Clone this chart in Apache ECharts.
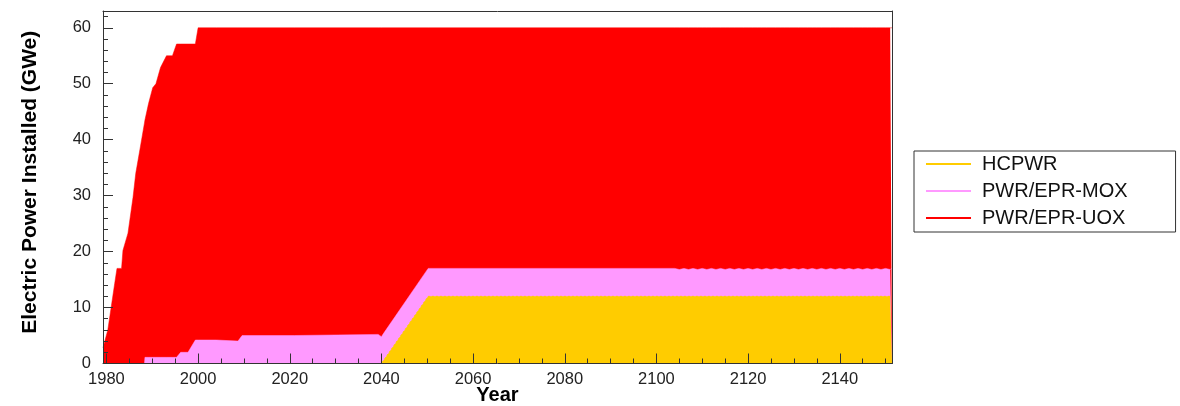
<!DOCTYPE html>
<html>
<head>
<meta charset="utf-8">
<script src="https://cdn.jsdelivr.net/npm/echarts@6/dist/echarts.min.js"></script>
<style>
  html, body { margin: 0; padding: 0; background: #fff; }
  #chart { width: 1180px; height: 406px; }
</style>
</head>
<body>
<div id="chart"></div>
<script>
// Installed electric power by reactor type (GWe), stacked.
const years = [
  1979.25, 1980.3, 1981.8, 1982.3, 1983.3, 1983.6, 1984.7, 1985.8, 1986.4, 1987.4,
  1988.3, 1988.4, 1989.2, 1990.1, 1990.8, 1991.8, 1993.1, 1994.4, 1995.3, 1995.6,
  1996.2, 1997.8, 1999.4, 1999.5, 2000.0, 2004.0, 2004.3, 2008.7, 2009.6, 2021.0,
  2021.3, 2039.3, 2040.0, 2040.4, 2050.2,
  2104, 2105, 2106, 2107, 2108, 2109, 2110, 2111, 2112, 2113, 2114, 2115,
  2116, 2117, 2118, 2119, 2120, 2121, 2122, 2123, 2124, 2125, 2126, 2127,
  2128, 2129, 2130, 2131, 2132, 2133, 2134, 2135, 2136, 2137, 2138, 2139,
  2140, 2141, 2142, 2143, 2144, 2145, 2146, 2147, 2148, 2149, 2150, 2151,
  2151.4
];

const hcpwr = [
  0, 0, 0, 0, 0, 0, 0, 0, 0, 0,
  0, 0, 0, 0, 0, 0, 0, 0, 0, 0,
  0, 0, 0, 0, 0, 0, 0, 0, 0, 0,
  0, 0, 0, 0, 12.0,
  12, 12, 12, 12, 12, 12, 12, 12, 12, 12, 12, 12,
  12, 12, 12, 12, 12, 12, 12, 12, 12, 12, 12, 12,
  12, 12, 12, 12, 12, 12, 12, 12, 12, 12, 12, 12,
  12, 12, 12, 12, 12, 12, 12, 12, 12, 12, 12, 12,
  12
];

const pwrMox = [
  0, 0, 0, 0, 0, 0, 0, 0, 0, 0,
  0, 1.1, 1.1, 1.1, 1.1, 1.1, 1.1, 1.1, 1.1, 1.1,
  2.0, 2.0, 4.2, 4.2, 4.2, 4.2, 4.0, 4.0, 5.0, 5.0,
  5.2, 5.2, 4.8, 5.3, 5.0,
  5.0, 4.8, 5.0, 4.8, 5.0, 4.8, 5.0, 4.8, 5.0, 4.8, 5.0, 4.8,
  5.0, 4.8, 5.0, 4.8, 5.0, 4.8, 5.0, 4.8, 5.0, 4.8, 5.0, 4.8,
  5.0, 4.8, 5.0, 4.8, 5.0, 4.8, 5.0, 4.8, 5.0, 4.8, 5.0, 4.8,
  5.0, 4.8, 5.0, 4.8, 5.0, 4.8, 5.0, 4.8, 5.0, 4.8, 5.0, 4.8,
  5.0
];

const pwrUox = [
  2.8, 6.0, 14.3, 17.0, 17.0, 20.2, 23.3, 29.7, 34.0, 38.7,
  43.0, 42.4, 45.4, 48.2, 48.9, 51.8, 53.9, 53.9, 56.0, 56.0,
  55.1, 55.1, 52.9, 52.9, 55.8, 55.8, 56.0, 56.0, 55.0, 55.0,
  54.8, 54.8, 55.2, 54.7, 43.0,
  43.0, 43.2, 43.0, 43.2, 43.0, 43.2, 43.0, 43.2, 43.0, 43.2, 43.0, 43.2,
  43.0, 43.2, 43.0, 43.2, 43.0, 43.2, 43.0, 43.2, 43.0, 43.2, 43.0, 43.2,
  43.0, 43.2, 43.0, 43.2, 43.0, 43.2, 43.0, 43.2, 43.0, 43.2, 43.0, 43.2,
  43.0, 43.2, 43.0, 43.2, 43.0, 43.2, 43.0, 43.2, 43.0, 43.2, 43.0, 43.2,
  43.0
];

const seriesNames = ['HCPWR', 'PWR/EPR-MOX', 'PWR/EPR-UOX'];
const seriesColors = ['#ffcc00', '#ff99ff', '#ff0000'];

const xMajor = [1980, 2000, 2020, 2040, 2060, 2080, 2100, 2120, 2140];
const xMinor = [1980, 1985, 1990, 1995, 2000, 2005, 2010, 2015, 2020, 2025, 2030, 2035,
  2040, 2045, 2050, 2055, 2060, 2065, 2070, 2075, 2080, 2085, 2090, 2095, 2100, 2105,
  2110, 2115, 2120, 2125, 2130, 2135, 2140, 2145, 2150];
const yMajor = [0, 10, 20, 30, 40, 50, 60];
const yMinor = [0, 2, 4, 6, 8, 10, 12, 14, 16, 18, 20, 22, 24, 26, 28, 30, 32, 34, 36,
  38, 40, 42, 44, 46, 48, 50, 52, 54, 56, 58, 60, 62];

const X_MIN = 1979.25, X_MAX = 2151.4, Y_MIN = 0, Y_MAX = 63;
const FONT = '"Liberation Sans", Arial, Helvetica, sans-serif';
const FRAME = '#333';

const chart = echarts.init(document.getElementById('chart'), null, { renderer: 'canvas' });

// Stack the three contributions: each area is filled from zero up to the
// running total, with the lower bands drawn in front of the upper ones.
const valueLists = [hcpwr, pwrMox, pwrUox];
const cumulative = [];
let running = years.map(() => 0);
valueLists.forEach((vals) => {
  running = running.map((s, i) => +(s + vals[i]).toFixed(3));
  cumulative.push(running.slice());
});

const series = seriesNames.map((name, i) => ({
  name: name,
  type: 'line',
  xAxisIndex: 0,
  yAxisIndex: 0,
  showSymbol: false,
  symbol: 'none',
  smooth: false,
  silent: true,
  z: 5 - i,
  itemStyle: { color: seriesColors[i] },
  lineStyle: i === 0
    ? { width: 1, color: seriesColors[i], type: [2, 2] }
    : { width: 0.5, color: seriesColors[i] },
  areaStyle: { color: seriesColors[i], opacity: 1, origin: 'start' },
  data: years.map((y, k) => [y, cumulative[i][k]])
}));

const numFmt = (v) => String(Math.round(v));

const option = {
  animation: false,
  backgroundColor: '#fff',
  textStyle: { fontFamily: FONT },
  grid: {
    left: 103, right: 288, top: 11, bottom: 42.5,
    outerBoundsMode: 'none', containLabel: false
  },
  legend: {
    orient: 'vertical',
    left: 914, top: 151,
    data: seriesNames,
    icon: 'rect',
    itemWidth: 45, itemHeight: 2, itemGap: 7,
    padding: [3, 48, 4, 12],
    borderColor: FRAME, borderWidth: 1,
    backgroundColor: '#fff',
    selectedMode: false,
    textStyle: { fontFamily: FONT, fontSize: 20, lineHeight: 20, color: '#111', padding: [0, 0, 0, 6] }
  },
  xAxis: [
    {
      type: 'value', min: X_MIN, max: X_MAX, position: 'bottom', z: 10,
      name: 'Year', nameLocation: 'middle', nameGap: 22, nameMoveOverlap: false,
      nameTextStyle: { fontFamily: FONT, fontSize: 20, fontWeight: 'bold', color: '#000' },
      axisLine: { show: true, onZero: false, lineStyle: { color: FRAME, width: 1 } },
      axisTick: { show: true, inside: true, length: 10, customValues: xMajor, lineStyle: { color: FRAME } },
      axisLabel: { show: true, customValues: xMajor, formatter: numFmt, margin: 7, fontSize: 16.5, color: '#222', fontFamily: FONT },
      splitLine: { show: false }
    },
    {
      type: 'value', min: X_MIN, max: X_MAX, position: 'bottom', z: 10,
      axisLine: { show: false },
      axisTick: { show: true, inside: true, length: 5, customValues: xMinor, lineStyle: { color: FRAME } },
      axisLabel: { show: false },
      splitLine: { show: false }
    },
    {
      type: 'value', min: X_MIN, max: X_MAX, position: 'top', z: 10,
      axisLine: { show: true, onZero: false, lineStyle: { color: FRAME, width: 1 } },
      axisTick: { show: false }, axisLabel: { show: false }, splitLine: { show: false }
    }
  ],
  yAxis: [
    {
      type: 'value', min: Y_MIN, max: Y_MAX, position: 'left', z: 10,
      name: 'Electric Power Installed (GWe)', nameLocation: 'middle', nameGap: 62, nameRotate: 90,
      nameMoveOverlap: false,
      nameTextStyle: { fontFamily: FONT, fontSize: 21, fontWeight: 'bold', color: '#000', padding: [0, 0, 0, 10] },
      axisLine: { show: true, onZero: false, lineStyle: { color: FRAME, width: 1 } },
      axisTick: { show: true, inside: true, length: 10, customValues: yMajor, lineStyle: { color: FRAME } },
      axisLabel: { show: true, customValues: yMajor, formatter: numFmt, margin: 12, fontSize: 16.5, color: '#222', fontFamily: FONT },
      splitLine: { show: false }
    },
    {
      type: 'value', min: Y_MIN, max: Y_MAX, position: 'left', z: 10,
      axisLine: { show: false },
      axisTick: { show: true, inside: true, length: 5, customValues: yMinor, lineStyle: { color: FRAME } },
      axisLabel: { show: false },
      splitLine: { show: false }
    },
    {
      type: 'value', min: Y_MIN, max: Y_MAX, position: 'right', z: 10,
      axisLine: { show: true, onZero: false, lineStyle: { color: FRAME, width: 1 } },
      axisTick: { show: false }, axisLabel: { show: false }, splitLine: { show: false }
    }
  ],
  series: series
};

chart.setOption(option);
</script>
</body>
</html>
